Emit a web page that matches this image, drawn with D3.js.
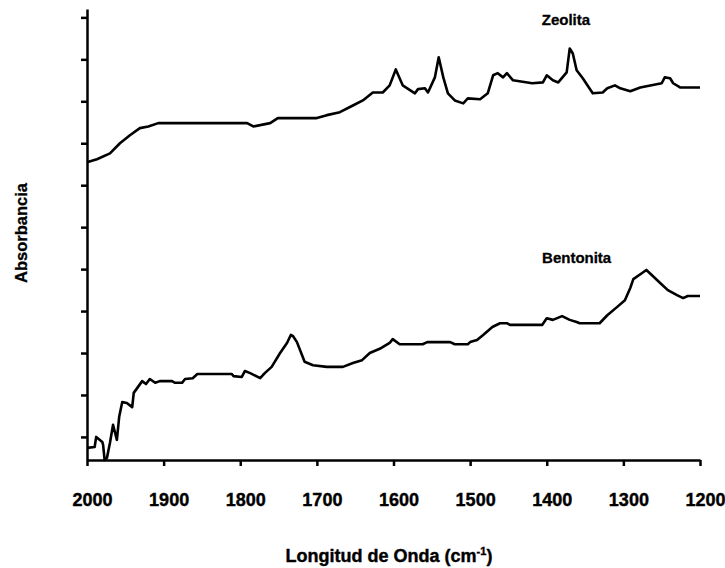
<!DOCTYPE html>
<html>
<head>
<meta charset="utf-8">
<script src="https://cdn.jsdelivr.net/npm/d3@7"></script>
<style>
  body { margin: 0; background: #fff; }
  text { font-family: "Liberation Sans", Arial, sans-serif; font-weight: bold; fill: #000; }
</style>
</head>
<body>
<div id="chart"></div>
<script>
// wavenumber (cm-1) and absorbance (arbitrary units)
const zeoWn = [2000, 1987, 1970, 1957, 1944, 1931, 1920, 1907, 1791, 1783, 1761, 1751, 1700, 1687, 1670, 1653, 1640, 1627, 1614, 1605,
  1597, 1588, 1572, 1568, 1559, 1555, 1546, 1541, 1535, 1529, 1520, 1509, 1503, 1487, 1477, 1470, 1464, 1457, 1452, 1444,
  1419, 1405, 1400, 1392, 1385, 1374, 1370, 1366, 1361, 1353, 1340, 1327, 1321, 1311, 1304, 1291, 1278, 1250, 1246, 1239,
  1235, 1226, 1200];
const zeoAbs = [6.55, 6.62, 6.76, 7.00, 7.19, 7.36, 7.40, 7.48, 7.48, 7.40, 7.48, 7.60, 7.60, 7.67, 7.74, 7.90, 8.02, 8.21, 8.21, 8.38,
  8.76, 8.38, 8.19, 8.29, 8.31, 8.21, 8.57, 9.05, 8.57, 8.19, 8.02, 7.95, 8.07, 8.05, 8.19, 8.62, 8.67, 8.57, 8.67, 8.50,
  8.43, 8.45, 8.62, 8.50, 8.45, 8.69, 9.26, 9.14, 8.74, 8.55, 8.19, 8.21, 8.31, 8.38, 8.31, 8.24, 8.33, 8.43, 8.57, 8.55,
  8.43, 8.33, 8.33];

const benWn = [2000, 1990, 1988, 1980, 1979, 1977, 1974, 1970, 1966, 1961, 1958, 1954, 1948, 1941, 1939, 1928, 1923, 1918, 1911, 1905,
  1889, 1885, 1876, 1872, 1862, 1856, 1811, 1809, 1798, 1794, 1787, 1774, 1768, 1759, 1748, 1739, 1734, 1731, 1726, 1716,
  1705, 1687, 1666, 1653, 1641, 1631, 1618, 1605, 1601, 1592, 1562, 1556, 1526, 1520, 1503, 1500, 1491, 1483, 1471, 1461,
  1452, 1448, 1406, 1400, 1392, 1380, 1370, 1361, 1357, 1331, 1321, 1308, 1298, 1291, 1287, 1276, 1270, 1263, 1252, 1242,
  1230, 1222, 1216, 1200];
const benAbs = [-0.26, -0.24, 0.00, -0.12, -0.19, -0.55, -0.50, -0.14, 0.29, -0.07, 0.48, 0.83, 0.81, 0.71, 1.05, 1.33, 1.26, 1.38, 1.29, 1.33,
  1.33, 1.29, 1.29, 1.38, 1.40, 1.50, 1.50, 1.45, 1.43, 1.57, 1.52, 1.40, 1.52, 1.67, 2.00, 2.24, 2.43, 2.40, 2.26, 1.79,
  1.71, 1.67, 1.67, 1.76, 1.83, 2.00, 2.10, 2.24, 2.33, 2.21, 2.21, 2.26, 2.26, 2.21, 2.21, 2.26, 2.31, 2.43, 2.62, 2.71,
  2.71, 2.67, 2.67, 2.83, 2.79, 2.88, 2.79, 2.74, 2.71, 2.71, 2.90, 3.10, 3.26, 3.55, 3.76, 3.90, 3.98, 3.86, 3.67, 3.50,
  3.38, 3.31, 3.36, 3.36];

const xTicks = [2000, 1900, 1800, 1700, 1600, 1500, 1400, 1300, 1200];
const yTicks = [0, 1, 2, 3, 4, 5, 6, 7, 8, 9, 10];

const width = 725;
const height = 568;
const margin = { top: 9, right: 25, bottom: 108, left: 87 };

const svg = d3.select("#chart").append("svg")
  .attr("width", width)
  .attr("height", height);

const x = d3.scaleLinear()
  .domain([2000, 1200])
  .range([margin.left, width - margin.right]);

const y = d3.scaleLinear()
  .domain([-0.55, 10.2])
  .range([height - margin.bottom, margin.top]);

const xAxis = svg.append("g")
  .attr("transform", `translate(0,${height - margin.bottom})`)
  .call(d3.axisBottom(x).tickValues(xTicks).tickFormat(d3.format("d"))
    .tickSize(6).tickPadding(27).tickSizeOuter(0));

xAxis.select(".domain").attr("stroke-width", 2.5);
xAxis.selectAll(".tick line").attr("stroke-width", 2.5);
xAxis.selectAll(".tick text")
  .attr("dx", 5)
  .style("font-size", "18px")
  .style("font-family", "'Liberation Sans', Arial, sans-serif")
  .style("font-weight", "bold")
  .style("stroke", "#000")
  .style("stroke-width", 0.4);

const yAxis = svg.append("g")
  .attr("transform", `translate(${margin.left},0)`)
  .call(d3.axisLeft(y).tickValues(yTicks).tickSize(6).tickFormat("").tickSizeOuter(0));

yAxis.select(".domain").attr("stroke-width", 2.5);
yAxis.selectAll(".tick line").attr("stroke-width", 2.5);

const line = d3.line()
  .x(d => x(d[0]))
  .y(d => y(d[1]));

const series = [
  { name: "Zeolita", data: d3.zip(zeoWn, zeoAbs), labelAt: [1375, 9.83] },
  { name: "Bentonita", data: d3.zip(benWn, benAbs), labelAt: [1361, 4.15] }
];

series.forEach(s => {
  svg.append("path")
    .datum(s.data)
    .attr("fill", "none")
    .attr("stroke", "#000")
    .attr("stroke-width", 2.6)
    .attr("stroke-linejoin", "round")
    .attr("d", line);

  svg.append("text")
    .attr("x", x(s.labelAt[0]))
    .attr("y", y(s.labelAt[1]))
    .attr("text-anchor", "middle")
    .style("font-size", "15px")
    .style("stroke", "#000")
    .style("stroke-width", 0.3)
    .text(s.name);
});

const xTitle = svg.append("text")
  .attr("x", 389)
  .attr("y", 562)
  .attr("text-anchor", "middle")
  .style("font-size", "18px")
  .style("stroke", "#000")
  .style("stroke-width", 0.4);
xTitle.append("tspan").text("Longitud de Onda (cm");
xTitle.append("tspan").attr("dy", -7).style("font-size", "11px").text("-1");
xTitle.append("tspan").attr("dy", 7).text(")");

svg.append("text")
  .attr("transform", "translate(27,233) rotate(-90)")
  .attr("text-anchor", "middle")
  .style("font-size", "16.5px")
  .style("stroke", "#000")
  .style("stroke-width", 0.3)
  .text("Absorbancia");
</script>
</body>
</html>
